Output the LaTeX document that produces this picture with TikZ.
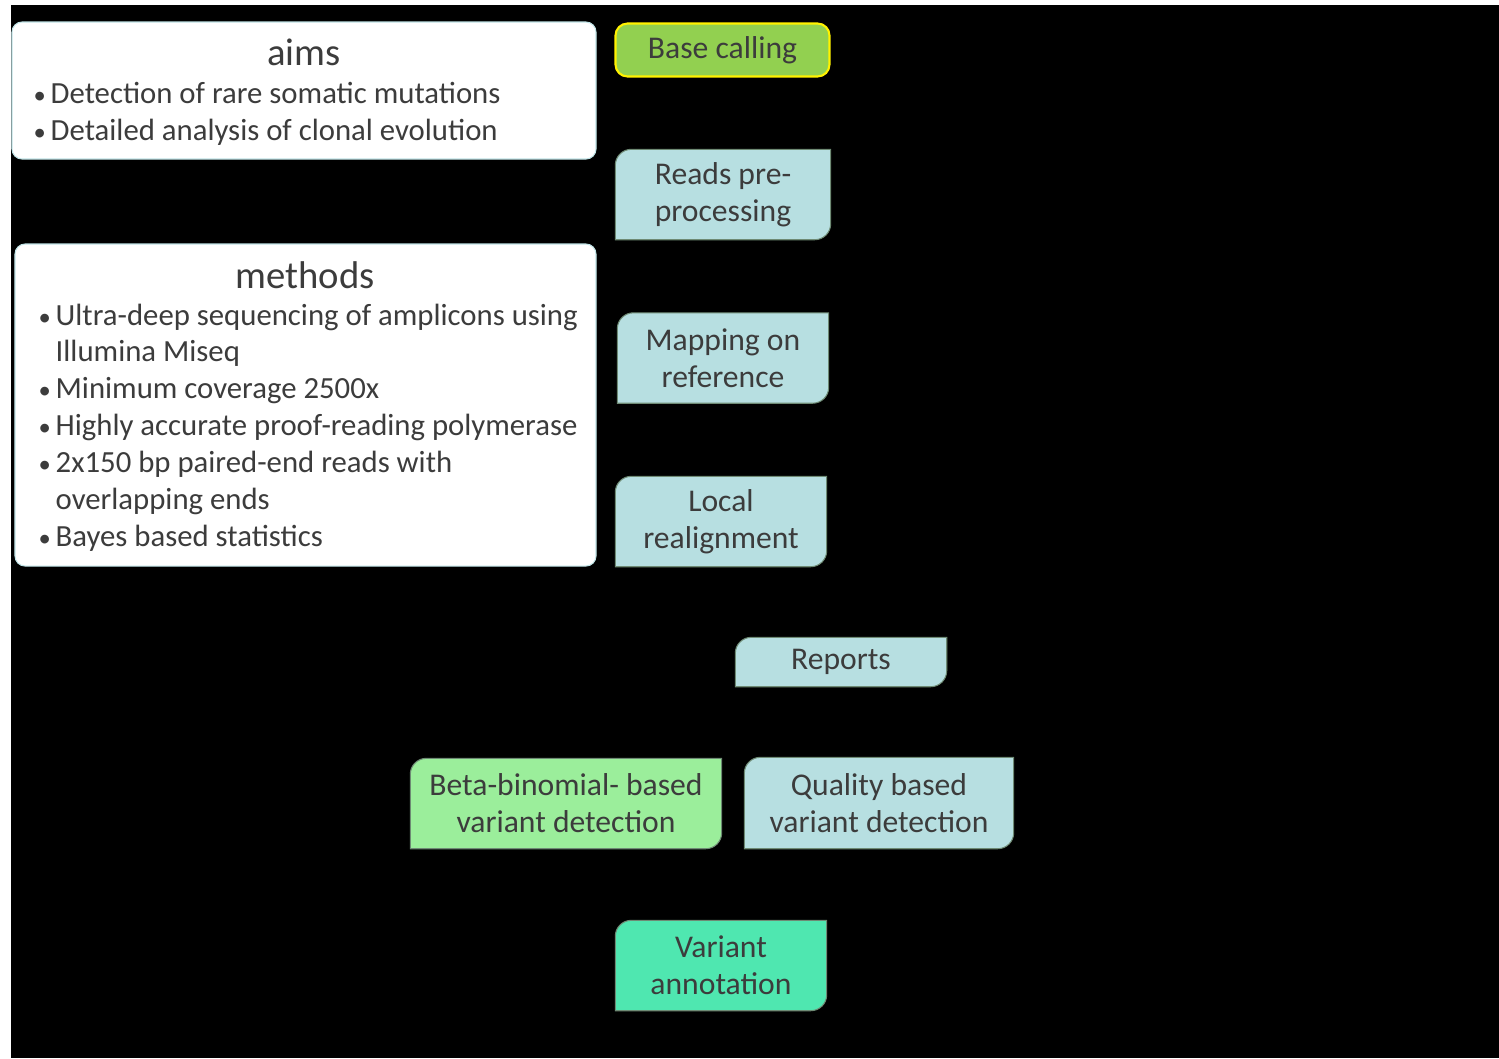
\documentclass[tikz,border=0pt]{standalone}
\usepackage{fontspec}
\setmainfont{Carlito}
\usetikzlibrary{backgrounds}

\definecolor{basegreen}{HTML}{92D050}
\definecolor{stageblue}{HTML}{B7DFE1}
\definecolor{betagreen}{HTML}{9BEE9B}
\definecolor{annotgreen}{HTML}{4FE7B0}
\definecolor{stageedge}{HTML}{6E8A74}
\definecolor{txt}{HTML}{3C3C3C}
\definecolor{panelline}{HTML}{BFE3E6}

\newcommand{\blt}{\makebox[0.17cm][l]{\fontsize{7}{8}\selectfont•}}
\newcommand{\cont}{\hspace*{0.17cm}}

\tikzset{
  diag radius/.initial=0.16cm,
  stage/.style={minimum width=2.1cm, minimum height=0.89cm, inner sep=0pt,
    align=center, text=txt, font=\fontsize{9}{10.5}\selectfont,
    append after command={\pgfextra{
      \def\rr{\pgfkeysvalueof{/tikz/diag radius}}
      \begin{pgfonlayer}{background}
      \filldraw[fill=#1, draw=stageedge, line width=0.3pt]
        ([yshift=-\rr]\tikzlastnode.north west)
        arc[start angle=180, end angle=90, radius=\rr]
        -- (\tikzlastnode.north east)
        -- ([yshift=\rr]\tikzlastnode.south east)
        arc[start angle=0, end angle=-90, radius=\rr]
        -- (\tikzlastnode.south west) -- cycle;
      \end{pgfonlayer}}}},
  panel/.style={fill=white, draw=panelline, line width=0.3pt, rounded corners=0.1cm,
    inner sep=0pt},
  paneltitle/.style={text=txt, inner sep=0pt, font=\fontsize{11}{13}\selectfont},
  panellist/.style={text=txt, inner sep=0pt, align=left, font=\fontsize{8.75}{10.5}\selectfont},
}

\begin{document}
\begin{tikzpicture}
  \useasboundingbox (0,0) rectangle (14.99,-10.58);
  \begin{scope}[on background layer]
    \fill[black] (0.11,-0.05) rectangle (14.99,-10.58);
  \end{scope}

  % aims and methods
  \node[panel, minimum width=5.84cm, minimum height=1.37cm] (aims) at (3.04,-0.905) {};
  \node[paneltitle] (aimstitle) at (3.04,-0.52) {aims};
  \node[panellist, anchor=west] (aimslist) at (0.33,-1.135)
    {\blt Detection of rare somatic mutations\\
     \blt Detailed analysis of clonal evolution};

  \node[panel, minimum width=5.81cm, minimum height=3.22cm] (methods) at (3.055,-4.05) {};
  \node[paneltitle] (methodstitle) at (3.05,-2.75) {methods};
  \node[panellist, anchor=west] (methodslist) at (0.38,-4.275)
    {\blt Ultra-deep sequencing of amplicons using\\
     \cont Illumina Miseq\\
     \blt Minimum coverage 2500x\\
     \blt Highly accurate proof-reading polymerase\\
     \blt 2x150 bp paired-end reads with\\
     \cont overlapping ends\\
     \blt Bayes based statistics};

  % pipeline
  \node[fill=basegreen, draw=yellow, line width=0.6pt, rounded corners=0.12cm,
    minimum width=2.14cm, minimum height=0.53cm, inner sep=0pt, text=txt,
    font=\fontsize{9}{10.5}\selectfont] (base) at (7.225,-0.50) {Base calling};
  \node[stage=stageblue, minimum width=2.14cm] (reads) at (7.23,-1.945) {Reads pre-\\processing};
  \node[stage=stageblue] (mapping) at (7.23,-3.58) {Mapping on\\reference};
  \node[stage=stageblue] (local) at (7.21,-5.215) {Local\\realignment};
  \node[stage=stageblue, minimum height=0.48cm, diag radius=0.08cm] (reports) at (8.41,-6.62) {Reports};
  \node[stage=betagreen, minimum width=3.10cm] (beta) at (5.66,-8.035) {Beta-binomial- based\\variant detection};
  \node[stage=stageblue, minimum width=2.68cm, minimum height=0.90cm] (quality) at (8.79,-8.03) {Quality based\\variant detection};
  \node[stage=annotgreen] (annot) at (7.21,-9.655) {Variant\\annotation};
\end{tikzpicture}
\end{document}
